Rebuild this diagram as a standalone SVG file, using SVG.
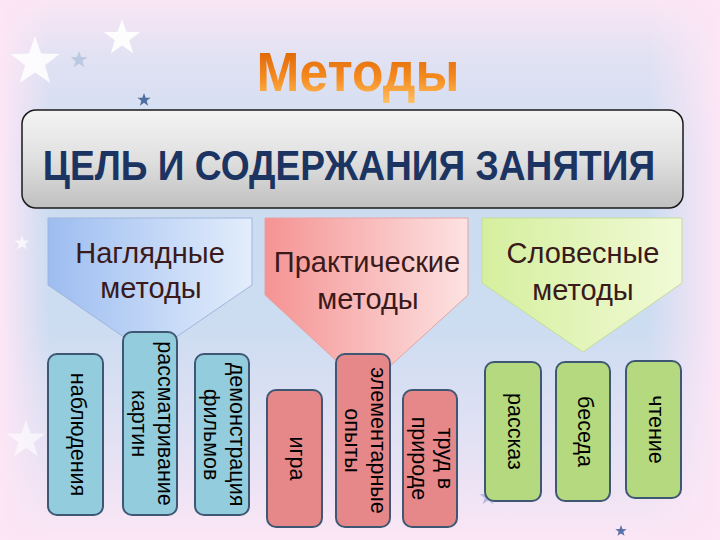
<svg xmlns="http://www.w3.org/2000/svg" width="720" height="540" viewBox="0 0 720 540">
<style>
.lbl{font-family:"Liberation Sans",Arial,sans-serif;font-size:21.5px;fill:#000;text-anchor:middle}
.head{font-family:"Liberation Sans",Arial,sans-serif;font-size:29px;fill:#3a1a1a;text-anchor:middle}
.bx{stroke:#3e5874;stroke-width:2}
.b1{fill:#93cddd}
.b2{fill:#e6878a}
.b3{fill:#b5d97f}
.pent{stroke-width:1}
</style>
<defs>
<linearGradient id="bgV" x1="0" y1="0" x2="0" y2="1">
<stop offset="0" stop-color="#fae6f5"/>
<stop offset="0.1" stop-color="#e2e2f3"/>
<stop offset="0.3" stop-color="#cbdcf1"/>
<stop offset="0.6" stop-color="#ccdcf1"/>
<stop offset="0.85" stop-color="#e6e2f4"/>
<stop offset="1" stop-color="#fbe6f5"/>
</linearGradient>
<linearGradient id="bgH" x1="0" y1="0" x2="1" y2="0">
<stop offset="0" stop-color="#fde6f6" stop-opacity="1"/>
<stop offset="0.07" stop-color="#fde6f6" stop-opacity="0"/>
<stop offset="0.9" stop-color="#fde6f6" stop-opacity="0"/>
<stop offset="1" stop-color="#fde6f6" stop-opacity="1"/>
</linearGradient>
<linearGradient id="ttl" x1="0" y1="0" x2="0" y2="1">
<stop offset="0" stop-color="#d65a00"/>
<stop offset="0.6" stop-color="#f58a1e"/>
<stop offset="1" stop-color="#ffc060"/>
</linearGradient>
<linearGradient id="main" x1="0" y1="0" x2="0" y2="1">
<stop offset="0" stop-color="#f4f4f4"/>
<stop offset="0.5" stop-color="#e0e0e0"/>
<stop offset="1" stop-color="#c0c0c0"/>
</linearGradient>
<linearGradient id="gBlue" x1="0" y1="0" x2="1" y2="0">
<stop offset="0" stop-color="#9dbdf0"/>
<stop offset="1" stop-color="#e3edfc"/>
</linearGradient>
<linearGradient id="gRed" x1="0" y1="0" x2="1" y2="0">
<stop offset="0" stop-color="#f59393"/>
<stop offset="1" stop-color="#fde2e2"/>
</linearGradient>
<linearGradient id="gGreen" x1="0" y1="0" x2="1" y2="0">
<stop offset="0" stop-color="#d5ef9e"/>
<stop offset="1" stop-color="#f1fad6"/>
</linearGradient>
<path id="star" d="M0,-1 L0.235,-0.324 L0.951,-0.309 L0.380,0.124 L0.588,0.809 L0,0.4 L-0.588,0.809 L-0.380,0.124 L-0.951,-0.309 L-0.235,-0.324 Z"/>
</defs>

<g id="background">
<rect width="720" height="540" fill="url(#bgV)"/>
<rect width="720" height="540" fill="url(#bgH)"/>
<use href="#star" transform="translate(35,62) scale(26)" fill="#ffffff" opacity="0.85"/>
<use href="#star" transform="translate(122,38) scale(19)" fill="#ffffff" opacity="0.9"/>
<use href="#star" transform="translate(79,60) scale(9)" fill="#a9bfd6" opacity="0.7"/>
<use href="#star" transform="translate(144,100) scale(7)" fill="#4f6ea0"/>
<use href="#star" transform="translate(22,243) scale(8)" fill="#ffffff" opacity="0.7"/>
<use href="#star" transform="translate(26,440) scale(20)" fill="#ffffff" opacity="0.6"/>
<use href="#star" transform="translate(488,497) scale(9)" fill="#8da3d0" opacity="0.6"/>
<use href="#star" transform="translate(621,531) scale(6)" fill="#5a70a8"/>
</g>

<g id="title">
<text transform="translate(358,91) scale(0.92,1)" x="0" y="0" font-family="'Liberation Sans',Arial,sans-serif" font-weight="bold" font-size="56" fill="url(#ttl)" text-anchor="middle">Методы</text>
</g>

<g id="goal">
<rect x="22" y="110" width="661" height="98" rx="14" fill="url(#main)" stroke="#1a1a1a" stroke-width="1.5"/>
<text transform="translate(349,180) scale(0.78,1)" x="0" y="0" font-family="'Liberation Sans',Arial,sans-serif" font-weight="bold" font-size="42" fill="#1c3461" text-anchor="middle" textLength="785" lengthAdjust="spacingAndGlyphs">ЦЕЛЬ И СОДЕРЖАНИЯ ЗАНЯТИЯ</text>
</g>

<g id="connectors"></g>

<g id="visual">
<polygon class="pent" points="48,218 252,218 252,285 150,355 48,285" fill="url(#gBlue)" stroke="#9fb6dc"/>
<text class="head" x="150" y="263">Наглядные</text>
<text class="head" x="151" y="298">методы</text>
</g>
<g id="practical">
<polygon class="pent" points="265,218 468,218 468,295 366,388 265,295" fill="url(#gRed)" stroke="#e4a3a3"/>
<text class="head" x="367" y="272">Практические</text>
<text class="head" x="368" y="309">методы</text>
</g>
<g id="verbal">
<polygon class="pent" points="482,218 682,218 682,283 583,352 482,283" fill="url(#gGreen)" stroke="#c3dc98"/>
<text class="head" x="583" y="263">Словесные</text>
<text class="head" x="583" y="300">методы</text>
</g>

<g id="observation">
<rect class="bx b1" x="48" y="354" width="55" height="161" rx="9"/>
<text class="lbl" transform="translate(75.5,434.5) rotate(90)" x="0" y="5">наблюдения</text>
</g>
<g id="pictures">
<rect class="bx b1" x="123" y="332" width="54" height="183" rx="9"/>
<text class="lbl" transform="translate(150,423.5) rotate(90)"><tspan x="0" y="-7.5">рассматривание</tspan><tspan x="0" y="18.5">картин</tspan></text>
</g>
<g id="films">
<rect class="bx b1" x="195" y="354" width="54" height="161" rx="9"/>
<text class="lbl" transform="translate(222,434.5) rotate(90)"><tspan x="0" y="-7.5">демонстрация</tspan><tspan x="0" y="18.5">фильмов</tspan></text>
</g>

<g id="game">
<rect class="bx b2" x="267" y="390" width="55" height="137" rx="9"/>
<text class="lbl" transform="translate(294.5,458.5) rotate(90)" x="0" y="5">игра</text>
</g>
<g id="experiments">
<rect class="bx b2" x="336" y="354" width="54" height="173" rx="9"/>
<text class="lbl" transform="translate(363,440.5) rotate(90)"><tspan x="0" y="-7.5">элементарные</tspan><tspan x="0" y="18.5">опыты</tspan></text>
</g>
<g id="labour">
<rect class="bx b2" x="403" y="390" width="54" height="137" rx="9"/>
<text class="lbl" transform="translate(430,458.5) rotate(90)"><tspan x="0" y="-7.5">труд в</tspan><tspan x="0" y="18.5">природе</tspan></text>
</g>

<g id="story">
<rect class="bx b3" x="485" y="362" width="56" height="139" rx="9"/>
<text class="lbl" transform="translate(513,431.5) rotate(90)" x="0" y="5">рассказ</text>
</g>
<g id="talk">
<rect class="bx b3" x="556" y="362" width="54" height="139" rx="9"/>
<text class="lbl" transform="translate(583,431.5) rotate(90)" x="0" y="5">беседа</text>
</g>
<g id="reading">
<rect class="bx b3" x="626" y="361" width="55" height="137" rx="9"/>
<text class="lbl" transform="translate(653.5,429.5) rotate(90)" x="0" y="5">чтение</text>
</g>
</svg>
